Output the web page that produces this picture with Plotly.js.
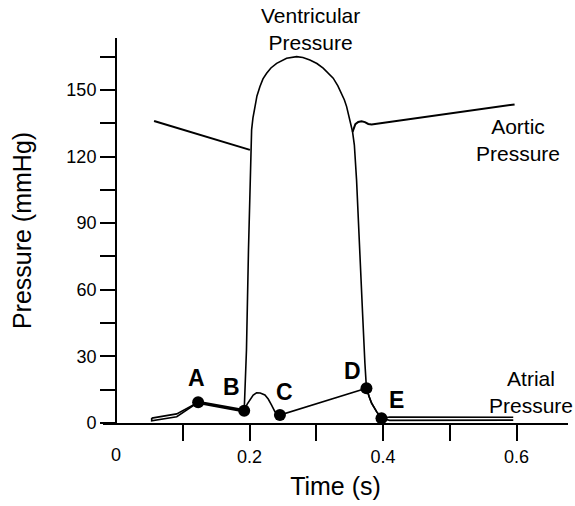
<!DOCTYPE html>
<html>
<head>
<meta charset="utf-8">
<script src="https://cdn.plot.ly/plotly-3.0.1.min.js"></script>
<style>html,body{margin:0;padding:0;background:#fff;}</style>
</head>
<body>
<div id="chart" style="width:575px;height:506px;"></div>
<script>
// ---- data (time in s, pressure in mmHg) ----
const aorticEarlyT = [0.057, 0.2006];
const aorticEarlyP = [136, 123];
const aorticLateT = [0.3543, 0.3585, 0.3628, 0.3678, 0.3728, 0.3778, 0.3828, 0.597];
const aorticLateP = [131.1, 134.6, 135.6, 135.9, 135.5, 134.7, 134.5, 143.5];

const ventT = [0.0534, 0.0534, 0.0909, 0.1108, 0.123, 0.1357, 0.1557, 0.1756, 0.192,
  0.1954, 0.1984, 0.2016, 0.2031, 0.2051, 0.2081, 0.2111, 0.2156, 0.2201, 0.2256,
  0.2320, 0.2406, 0.2555, 0.2705, 0.2799, 0.2904, 0.3009, 0.3103, 0.3189, 0.3253,
  0.3323, 0.3379, 0.3421, 0.3454, 0.3488, 0.3513, 0.3543, 0.3570, 0.3603, 0.3653,
  0.3693, 0.3728, 0.3751, 0.3792, 0.3828, 0.3903, 0.3976, 0.41, 0.595];
const ventP = [2.2, 1.0, 2.8, 7.0, 9.3, 8.6, 7.3, 6.3, 5.5,
  32.9, 77.9, 123.0, 132.0, 137.4, 142.3, 147.3, 151.6, 155.0, 157.5,
  159.9, 162.0, 164.3, 165.0, 164.6, 163.5, 161.9, 159.8, 157.4, 155.3,
  151.8, 148.5, 145.5, 142.5, 138.7, 135.0, 131.1, 125.2, 109.5, 79.4,
  49.4, 26.9, 15.6, 11.8, 8.9, 5.1, 2.1, 1.2, 1.3];

const atrialT = [0.0534, 0.0909, 0.123, 0.1357, 0.1557, 0.1756, 0.192,
  0.1965, 0.2006, 0.2055, 0.2106, 0.216, 0.223, 0.228, 0.233, 0.238, 0.2455,
  0.3751, 0.3792, 0.3828, 0.3903, 0.3976, 0.41, 0.595];
const atrialP = [2.2, 4.1, 9.3, 8.6, 7.3, 6.3, 5.5,
  8.5, 10.4, 12.6, 13.6, 13.5, 12.6, 10.8, 8.1, 5.1, 3.6,
  15.6, 11.8, 8.9, 5.1, 2.1, 2.7, 2.6];

const overlapT = [0.123, 0.1357, 0.1557, 0.1756, 0.192];
const overlapP = [9.3, 8.6, 7.3, 6.3, 5.5];

const pointNames = ['A', 'B', 'C', 'D', 'E'];
const pointT = [0.123, 0.192, 0.2455, 0.3751, 0.3976];
const pointP = [9.3, 5.5, 3.6, 15.6, 2.1];

const xTickVals = [0.1, 0.2, 0.3, 0.4, 0.5, 0.6];
const xTickText = ['', '0.2', '', '0.4', '', '0.6'];
const yTickVals = [0, 15, 30, 45, 60, 75, 90, 105, 120, 135, 150, 165];
const yTickText = ['0', '', '30', '', '60', '', '90', '', '120', '', '150', ''];

// ---- styling ----
const FONT = 'Liberation Sans, Arial, Helvetica, sans-serif';
const BLK = '#000';
const labelShift = {A: [-2, 24], B: [-13, 24], C: [5, 23], D: [-14, 17], E: [15, 18]};

const traces = [
  {x: aorticEarlyT, y: aorticEarlyP, mode: 'lines', line: {color: BLK, width: 2}, hoverinfo: 'skip'},
  {x: aorticLateT, y: aorticLateP, mode: 'lines', line: {color: BLK, width: 2}, hoverinfo: 'skip'},
  {x: ventT, y: ventP, mode: 'lines', line: {color: BLK, width: 1.6}, hoverinfo: 'skip'},
  {x: atrialT, y: atrialP, mode: 'lines', line: {color: BLK, width: 1.6}, hoverinfo: 'skip'},
  {x: overlapT, y: overlapP, mode: 'lines', line: {color: BLK, width: 3.5}, hoverinfo: 'skip'},
  {x: pointT, y: pointP, mode: 'markers', marker: {color: BLK, size: 12}, hoverinfo: 'skip'}
];

const annotations = pointNames.map((n, i) => ({
  x: pointT[i], y: pointP[i], xref: 'x', yref: 'y', text: n, showarrow: false,
  xshift: labelShift[n][0], yshift: labelShift[n][1],
  font: {family: FONT, size: 23, color: BLK, weight: 'bold'}
}));

annotations.push(
  {x: 0.2915, y: 1.0234, xref: 'x', yref: 'paper', xanchor: 'center', yanchor: 'middle',
   text: 'Ventricular<br>Pressure', showarrow: false,
   font: {family: FONT, size: 21, color: BLK}},
  {x: 0.602, y: 127.3, xref: 'x', yref: 'y', xanchor: 'center', yanchor: 'middle',
   text: 'Aortic<br>Pressure', showarrow: false,
   font: {family: FONT, size: 21, color: BLK}},
  {x: 0.621, y: 14, xref: 'x', yref: 'y', xanchor: 'center', yanchor: 'middle',
   text: 'Atrial<br>Pressure', showarrow: false,
   font: {family: FONT, size: 21, color: BLK}},
  {x: 0, y: 0, xref: 'x', yref: 'y', text: '0', showarrow: false, yshift: -32,
   font: {family: FONT, size: 18, color: BLK}}
);

const layout = {
  width: 575, height: 506,
  margin: {l: 103, r: 7, t: 38, b: 83},
  paper_bgcolor: '#fff', plot_bgcolor: '#fff',
  showlegend: false,
  font: {family: FONT, color: BLK},
  xaxis: {
    range: [-0.0195, 0.677], showgrid: false, zeroline: false,
    showline: true, linecolor: BLK, linewidth: 2,
    ticks: 'outside', ticklen: 16, tickwidth: 2, tickcolor: BLK,
    tickmode: 'array', tickvals: xTickVals, ticktext: xTickText,
    tickfont: {family: FONT, size: 18, color: BLK},
    title: {text: 'Time (s)', font: {family: FONT, size: 25, color: BLK}, standoff: 12}
  },
  yaxis: {
    range: [0, 173.4], anchor: 'free', position: 0.028,
    showgrid: false, zeroline: false,
    showline: true, linecolor: BLK, linewidth: 2,
    ticks: 'outside', ticklen: 15, tickwidth: 2, tickcolor: BLK,
    tickmode: 'array', tickvals: yTickVals, ticktext: yTickText,
    tickfont: {family: FONT, size: 18, color: BLK},
    title: {text: 'Pressure (mmHg)', font: {family: FONT, size: 25, color: BLK}, standoff: 27}
  },
  annotations: annotations
};

Plotly.newPlot('chart', traces, layout, {displayModeBar: false, staticPlot: true});
</script>
</body>
</html>
